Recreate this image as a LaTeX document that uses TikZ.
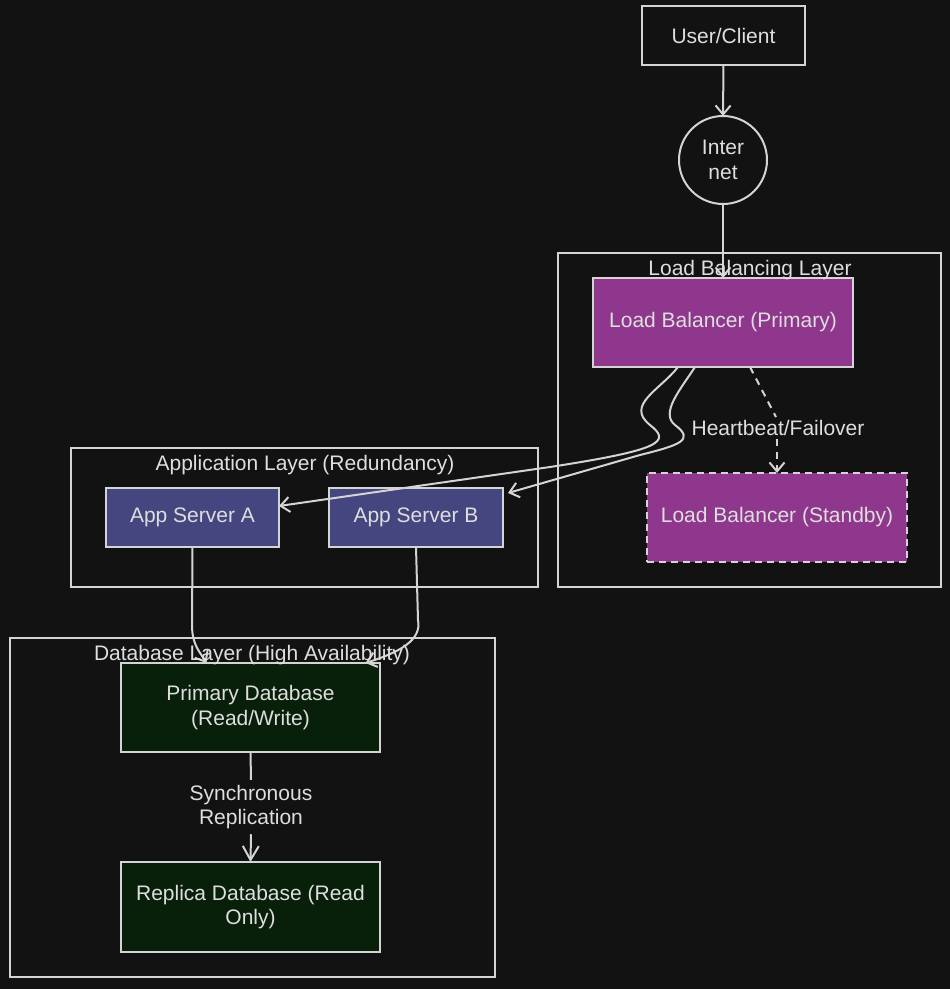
\documentclass[tikz,border=0pt]{standalone}
\usepackage{fontspec}
\setmainfont{Liberation Sans}
\usetikzlibrary{arrows.meta,calc}
\definecolor{bgc}{HTML}{121212}
\definecolor{linec}{HTML}{D4D4D4}
\definecolor{textc}{HTML}{DEDEDE}
\definecolor{purp}{HTML}{8E378C}
\definecolor{indig}{HTML}{454580}
\definecolor{dgreen}{HTML}{08200A}
\tikzset{
  every node/.style={text=textc, font=\fontsize{21}{24.5}\selectfont},
  box/.style={draw=linec, line width=2pt, inner sep=0pt, outer sep=0pt, align=center},
  cluster/.style={draw=linec, line width=2pt},
  ctitle/.style={inner sep=0pt},
  conn/.style={draw=linec, line width=2pt, -{Straight Barb[length=9pt,width=15pt,line width=2pt]}},
  lbl/.style={fill=bgc, inner sep=3pt, align=center}
}
\begin{document}
\begin{tikzpicture}[x=1pt,y=-1pt]
\fill[bgc] (0,0) rectangle (950,989);
\useasboundingbox (0,0) rectangle (950,989);

% clusters
\draw[cluster] (558,253) rectangle (941,587);
\draw[cluster] (71,448) rectangle (538,587);
\draw[cluster] (10,638) rectangle (495,977);

% nodes
\node[box, minimum width=163pt, minimum height=59pt] (user) at (723.5,35.5) {User/Client};
\node[box, circle, minimum size=88pt] (net) at (723,160) {Inter\\net};
\node[box, fill=purp, minimum width=260pt, minimum height=89pt] (lbp) at (723,322.5) {Load Balancer (Primary)};
\node[box, fill=purp, dashed, dash pattern=on 7pt off 5pt, minimum width=260pt, minimum height=89pt] (lbs) at (777,517.5) {Load Balancer (Standby)};
\node[box, fill=indig, minimum width=173pt, minimum height=59pt] (appa) at (192.5,517.5) {App Server A};
\node[box, fill=indig, minimum width=174pt, minimum height=59pt] (appb) at (416,517.5) {App Server B};
\node[box, fill=dgreen, minimum width=259pt, minimum height=89pt] (pdb) at (250.5,707.5) {Primary Database\\(Read/Write)};
\node[box, fill=dgreen, minimum width=259pt, minimum height=90pt] (rdb) at (250.5,907) {Replica Database (Read\\Only)};

% labels
\node[lbl] (hb) at (778,428) {Heartbeat/Failover};
\node[lbl, inner sep=5pt] (sync) at (251,807) {Synchronous\\Replication};

% connectors
\draw[conn] (user.south) -- (net.north);
\draw[conn] (net.south) -- (lbp.north);
\draw[conn] ([xshift=85pt]lbp.south west) .. controls (660,390) and (625,405) .. (650,425)
   .. controls (672,442) and (660,450) .. (550,467) -- ([yshift=11.5pt]appa.east);
\draw[conn] ([xshift=102pt]lbp.south west) .. controls (680,390) and (660,413) .. (675,425)
   .. controls (695,440) and (680,445) .. (640,455) -- ([xshift=5pt,yshift=-5pt]appb.north east);
\draw[draw=linec, line width=2pt, dashed, dash pattern=on 7pt off 6pt] ([xshift=157pt]lbp.south west) -- ([xshift=-2pt]hb.north);
\draw[conn, dashed, dash pattern=on 7pt off 6pt] (hb.south -| lbs.north) -- (lbs.north);
\draw[conn] (appa.south) -- (192,625) .. controls (192,645) and (200,652) .. ([xshift=-44pt]pdb.north);
\draw[conn] (appb.south) -- (418,620) .. controls (422,640) and (400,652) .. ([xshift=115pt]pdb.north);
\draw[draw=linec, line width=2pt] (pdb.south) -- (sync.north);
\draw[conn, -{Straight Barb[length=14pt,width=16pt,line width=2pt]}] (sync.south) -- (rdb.north);

% cluster titles
\node[ctitle] (t1) at (750,270) {Load Balancing Layer};
\node[ctitle] (t2) at (305,465) {Application Layer (Redundancy)};
\node[ctitle] (t3) at (252,655) {Database Layer (High Availability)};
\end{tikzpicture}
\end{document}
